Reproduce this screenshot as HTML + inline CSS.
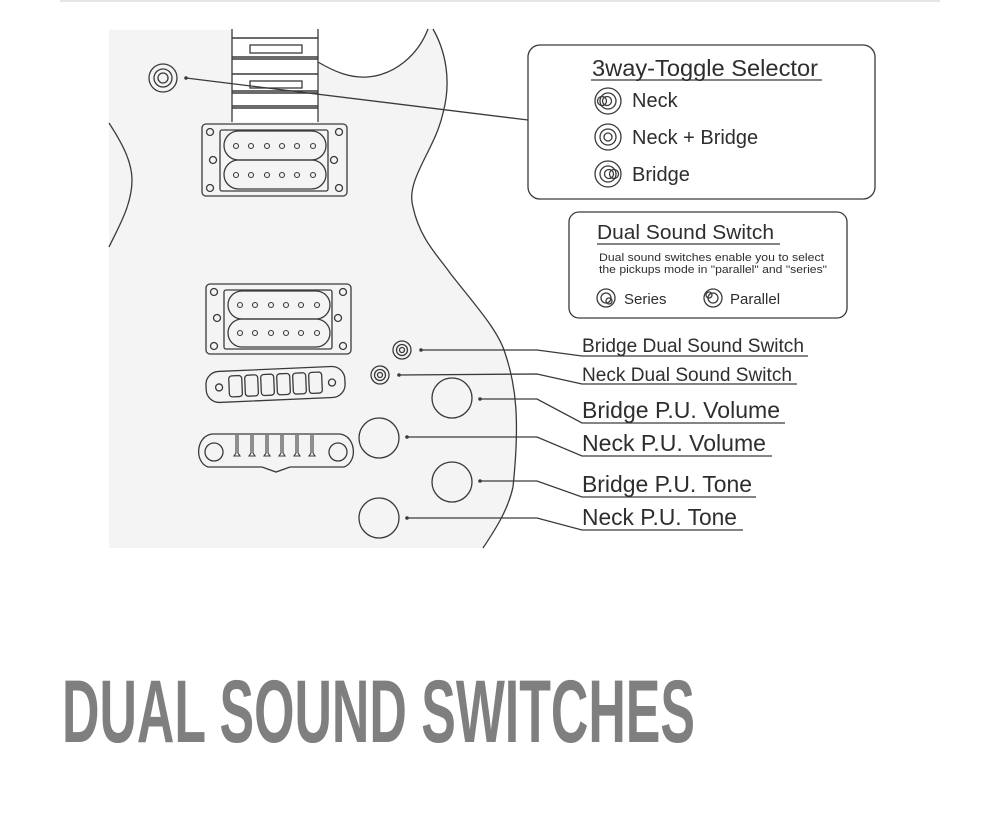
<!DOCTYPE html>
<html><head><meta charset="utf-8"><style>
html,body{margin:0;padding:0;background:#fff;}
svg{display:block;}
</style></head><body>
<svg width="1000" height="837" viewBox="0 0 1000 837" xmlns="http://www.w3.org/2000/svg" font-family="'Liberation Sans', 'DejaVu Sans', sans-serif">
<rect x="60" y="0" width="880" height="2" fill="#e6e6e6"/>
<path d="M109,30 L232,30 L232,122 L318,122 L318,62 C335,72 350,78 367,77 C395,75 418,55 428,29 L433,29 C445,50 452,80 443,113 C435,150 405,180 413,207 C420,240 440,258 450,273 C475,305 498,330 505,353 C516,385 520,420 513,487 C508,510 495,530 483,548 L109,548 Z" fill="#f4f4f4"/>
<g fill="none" stroke="#3a3a3a" stroke-width="1.3">
<path d="M318,62 C335,72 350,78 367,77 C395,75 418,55 428,29"/>
<path d="M433,29 C445,50 452,80 443,113 C435,150 405,180 413,207 C420,240 440,258 450,273 C475,305 498,330 505,353 C516,385 520,420 513,487 C508,510 495,530 483,548"/>
<path d="M109,123 C120,140 132,160 132,180 C132,205 118,228 109,247"/>
<line x1="232" y1="29" x2="232" y2="122"/>
<line x1="318" y1="29" x2="318" y2="122"/>
<g stroke-width="1.6">
<line x1="232" y1="38" x2="318" y2="38"/>
<line x1="232" y1="57" x2="318" y2="57"/><line x1="232" y1="59" x2="318" y2="59"/>
<line x1="232" y1="74" x2="318" y2="74"/>
<line x1="232" y1="91" x2="318" y2="91"/><line x1="232" y1="93" x2="318" y2="93"/>
<line x1="232" y1="106" x2="318" y2="106"/><line x1="232" y1="108" x2="318" y2="108"/>
</g>
<rect x="250" y="45" width="52" height="8"/>
<rect x="250" y="81" width="52" height="7"/>
<circle cx="163" cy="78" r="14"/><circle cx="163" cy="78" r="9"/><circle cx="163" cy="78" r="5"/>
<line x1="186" y1="78" x2="528" y2="120"/>
<g>
<rect x="202" y="124" width="145" height="72" rx="4"/>
<rect x="220" y="130" width="108" height="61" rx="2"/>
<rect x="224" y="131" width="102" height="29" rx="14.5"/>
<rect x="224" y="160" width="102" height="29" rx="14.5"/>
<circle cx="210" cy="132" r="3.5"/><circle cx="339" cy="132" r="3.5"/><circle cx="213" cy="160" r="3.5"/><circle cx="334" cy="160" r="3.5"/><circle cx="210" cy="188" r="3.5"/><circle cx="339" cy="188" r="3.5"/>
<g stroke-width="1.1">
<circle cx="236" cy="146" r="2.5"/><circle cx="251" cy="146" r="2.5"/><circle cx="267" cy="146" r="2.5"/><circle cx="282" cy="146" r="2.5"/><circle cx="297" cy="146" r="2.5"/><circle cx="313" cy="146" r="2.5"/>
<circle cx="236" cy="175" r="2.5"/><circle cx="251" cy="175" r="2.5"/><circle cx="267" cy="175" r="2.5"/><circle cx="282" cy="175" r="2.5"/><circle cx="297" cy="175" r="2.5"/><circle cx="313" cy="175" r="2.5"/>
</g>
</g>
<g transform="translate(4,160)">
<rect x="202" y="124" width="145" height="70" rx="4"/>
<rect x="220" y="130" width="108" height="59" rx="2"/>
<rect x="224" y="131" width="102" height="28" rx="14"/>
<rect x="224" y="159" width="102" height="28" rx="14"/>
<circle cx="210" cy="132" r="3.5"/><circle cx="339" cy="132" r="3.5"/><circle cx="213" cy="158" r="3.5"/><circle cx="334" cy="158" r="3.5"/><circle cx="210" cy="186" r="3.5"/><circle cx="339" cy="186" r="3.5"/>
<g stroke-width="1.1">
<circle cx="236" cy="145" r="2.5"/><circle cx="251" cy="145" r="2.5"/><circle cx="267" cy="145" r="2.5"/><circle cx="282" cy="145" r="2.5"/><circle cx="297" cy="145" r="2.5"/><circle cx="313" cy="145" r="2.5"/>
<circle cx="236" cy="173" r="2.5"/><circle cx="251" cy="173" r="2.5"/><circle cx="267" cy="173" r="2.5"/><circle cx="282" cy="173" r="2.5"/><circle cx="297" cy="173" r="2.5"/><circle cx="313" cy="173" r="2.5"/>
</g>
</g>
<g transform="rotate(-2.5 275 384)">
<rect x="206" y="369" width="139" height="31" rx="13"/>
<circle cx="219" cy="385" r="3.5"/><circle cx="332" cy="385" r="3.5"/>
<rect x="229" y="374" width="13" height="21" rx="3"/><rect x="245" y="374" width="13" height="21" rx="3"/><rect x="261" y="374" width="13" height="21" rx="3"/><rect x="277" y="374" width="13" height="21" rx="3"/><rect x="293" y="374" width="13" height="21" rx="3"/><rect x="309" y="374" width="13" height="21" rx="3"/>
</g>
<path d="M212,434 L340,434 C356,436 358,462 344,467 L290,467 L276,472 L262,467 L208,467 C194,462 196,436 212,434 Z"/>
<circle cx="214" cy="452" r="9"/><circle cx="338" cy="452" r="9"/>
<g stroke-width="1.1">
<path d="M236,435 L236,453 L234,456 L240,456 L238,453 L238,435"/>
<path d="M251,435 L251,453 L249,456 L255,456 L253,453 L253,435"/>
<path d="M266,435 L266,453 L264,456 L270,456 L268,453 L268,435"/>
<path d="M281,435 L281,453 L279,456 L285,456 L283,453 L283,435"/>
<path d="M296,435 L296,453 L294,456 L300,456 L298,453 L298,435"/>
<path d="M311,435 L311,453 L309,456 L315,456 L313,453 L313,435"/>
</g>
<circle cx="402" cy="350" r="9"/><circle cx="402" cy="350" r="5.5"/><circle cx="402" cy="350" r="2.5"/>
<circle cx="380" cy="375" r="9"/><circle cx="380" cy="375" r="5.5"/><circle cx="380" cy="375" r="2.5"/>
<circle cx="452" cy="398" r="20"/>
<circle cx="379" cy="438" r="20"/>
<circle cx="452" cy="482" r="20"/>
<circle cx="379" cy="518" r="20"/>
<polyline points="421,350 537,350 582,356 808,356"/>
<polyline points="399,375 537,374 582,384 797,384"/>
<polyline points="480,399 537,399 582,423 785,423"/>
<polyline points="407,437 537,437 582,456 772,456"/>
<polyline points="480,481 537,481 582,497 756,497"/>
<polyline points="407,518 537,518 582,530 743,530"/>
<rect x="528" y="45" width="347" height="154" rx="12"/>
<line x1="591" y1="80" x2="822" y2="80"/>
<rect x="569" y="212" width="278" height="106" rx="10"/>
<line x1="597" y1="244" x2="780" y2="244"/>
<circle cx="608" cy="101" r="13"/><circle cx="608" cy="101" r="8"/><circle cx="602" cy="101" r="4.5"/><circle cx="607" cy="101" r="4.5"/>
<circle cx="608" cy="137" r="13"/><circle cx="608" cy="137" r="8"/><circle cx="608" cy="137" r="4"/>
<circle cx="608" cy="174" r="13"/><circle cx="608" cy="174" r="8"/><circle cx="609" cy="174" r="4.5"/><circle cx="614" cy="174" r="4.5"/>
<circle cx="606" cy="298" r="9"/><circle cx="606" cy="298" r="5"/><circle cx="609" cy="301" r="3"/>
<circle cx="713" cy="298" r="9"/><circle cx="713" cy="298" r="5"/><circle cx="709" cy="295" r="3"/>
</g>
<g fill="#3a3a3a" stroke="none">
<circle cx="186" cy="78" r="1.8"/><circle cx="421" cy="350" r="1.8"/><circle cx="399" cy="375" r="1.8"/><circle cx="480" cy="399" r="1.8"/><circle cx="407" cy="437" r="1.8"/><circle cx="480" cy="481" r="1.8"/><circle cx="407" cy="518" r="1.8"/>
</g>
<g fill="#2e2e2e">
<text x="592" y="76" font-size="23" textLength="226" lengthAdjust="spacingAndGlyphs">3way-Toggle Selector</text>
<text x="632" y="107" font-size="20">Neck</text>
<text x="632" y="144" font-size="20">Neck + Bridge</text>
<text x="632" y="181" font-size="20">Bridge</text>
<text x="597" y="239" font-size="20" textLength="177" lengthAdjust="spacingAndGlyphs">Dual Sound Switch</text>
<text x="599" y="261" font-size="11" textLength="225" lengthAdjust="spacingAndGlyphs">Dual sound switches enable you to select</text>
<text x="599" y="273" font-size="11" textLength="228" lengthAdjust="spacingAndGlyphs">the pickups mode in "parallel" and "series"</text>
<text x="624" y="304" font-size="15">Series</text>
<text x="730" y="304" font-size="15">Parallel</text>
<text x="582" y="352" font-size="19" textLength="222" lengthAdjust="spacingAndGlyphs">Bridge Dual Sound Switch</text>
<text x="582" y="381" font-size="19" textLength="210" lengthAdjust="spacingAndGlyphs">Neck Dual Sound Switch</text>
<text x="582" y="418" font-size="23" textLength="198" lengthAdjust="spacingAndGlyphs">Bridge P.U. Volume</text>
<text x="582" y="451" font-size="23" textLength="184" lengthAdjust="spacingAndGlyphs">Neck P.U. Volume</text>
<text x="582" y="492" font-size="23" textLength="170" lengthAdjust="spacingAndGlyphs">Bridge P.U. Tone</text>
<text x="582" y="525" font-size="23" textLength="155" lengthAdjust="spacingAndGlyphs">Neck P.U. Tone</text>
</g>
<text x="62" y="742" font-size="89" font-weight="bold" fill="#7f7f7f" textLength="633" lengthAdjust="spacingAndGlyphs" font-family="'Liberation Sans Narrow', 'Liberation Sans', sans-serif">DUAL SOUND SWITCHES</text>
</svg>
</body></html>
